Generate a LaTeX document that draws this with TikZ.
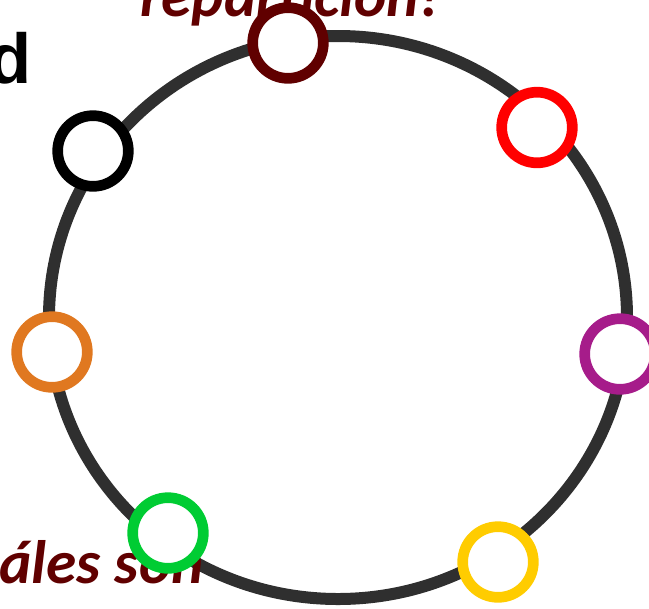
\documentclass[tikz,border=0pt]{standalone}
\usepackage{fontspec}
\newfontfamily\calib{Carlito}
\newfontfamily\arialb{Liberation Sans}
\definecolor{rim}{HTML}{2F2F2F}
\definecolor{maroon}{HTML}{600000}
\definecolor{ringred}{HTML}{FF0000}
\definecolor{ringpurple}{HTML}{A61C8A}
\definecolor{ringyellow}{HTML}{FFCC00}
\definecolor{ringgreen}{HTML}{00CC33}
\definecolor{ringorange}{HTML}{E07820}
\begin{document}
\begin{tikzpicture}[x=0.75pt, y=-0.75pt]
       \tikzset{ring/.style={circle, draw=#1, fill=white, line width=8pt, minimum size=53pt, inner sep=0pt},
                word/.style={inner sep=0pt, text=maroon, font=\calib\bfseries\itshape\fontsize{46}{55}\selectfont}}
       \useasboundingbox (0,0) rectangle (649,608);
       \draw[rim, line width=9pt] (338,317.5) ellipse [x radius=289, y radius=281.5];
       \node[word, anchor=base west] (top) at (140,16) {repartición!};
       \node[word, anchor=base west] (bottom) at (-1,583) {áles son};
       \node[inner sep=0pt, anchor=base east, font=\arialb\bfseries\fontsize{53}{62}\selectfont] (d) at (32,83) {d};
       \node[ring=maroon] (r1) at (288,43) {};
       \node[ring=ringred] (r2) at (537,127.5) {};
       \node[ring=ringpurple] (r3) at (620,354) {};
       \node[ring=ringyellow] (r4) at (498,562) {};
       \node[ring=ringgreen] (r5) at (168,533) {};
       \node[ring=ringorange] (r6) at (52,352) {};
       \node[ring=black] (r7) at (93,151) {};
   \end{tikzpicture}
\end{document}
